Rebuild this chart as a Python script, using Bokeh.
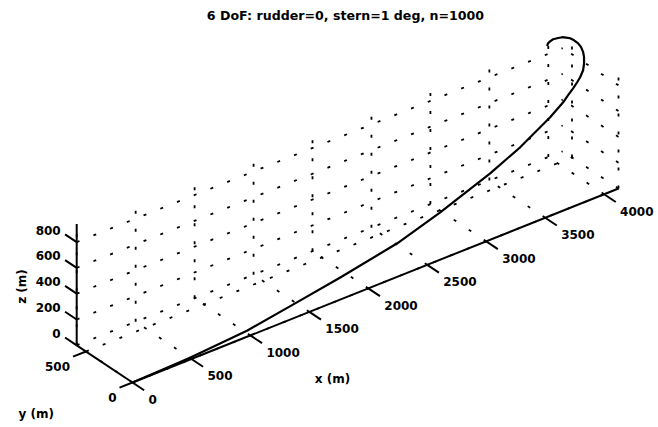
import numpy as np
from bokeh.plotting import figure
from bokeh.models import Range1d
from bokeh.core.properties import value
from bokeh.embed import file_html
from bokeh.resources import INLINE

# ---------------- data ----------------
title = "6 DoF: rudder=0, stern=1 deg, n=1000"

traj_x = [0, 239, 496, 989, 1392, 1802, 2305, 2689, 3144, 3422, 3708, 3842, 3898,
          3958, 4008, 4049, 4094, 4114, 4120, 4122, 4120, 4119, 4108, 4098, 4080,
          4062, 4036, 4013, 3999, 3990, 3990]
traj_y = [0, 2, 5, 18, 35, 50, 75, 100, 140, 170, 210, 240, 258,
          280, 300, 320, 345, 360, 368, 380, 400, 430, 460, 490, 510,
          530, 550, 565, 580, 590, 600]
traj_z = [0, 5, 11, 34, 81, 133, 202, 290, 407, 493, 602, 655, 681,
          702, 721, 735, 761, 801, 842, 874, 904, 920, 933, 938, 940,
          940, 932, 925, 907, 891, 863]

x_lim = [0, 4122]
y_lim = [0, 600]
z_lim = [0, 940]

x_ticks = [0, 500, 1000, 1500, 2000, 2500, 3000, 3500, 4000]
y_ticks = [0, 500]
z_ticks = [0, 200, 400, 600, 800]

x_label = "x (m)"
y_label = "y (m)"
z_label = "z (m)"

# ---------------- view (orthographic projection to page pixels) ----------------
ORIGIN = np.array([132.0, 382.0])
EX = np.array([486.0, -194.0]) / 4122.0
EY = np.array([-0.093, -0.062])
EZ = np.array([0.0, -0.129])


def proj(x, y, z):
    x = np.asarray(x, dtype=float)
    y = np.asarray(y, dtype=float)
    z = np.asarray(z, dtype=float)
    u = ORIGIN[0] + x * EX[0] + y * EY[0] + z * EZ[0]
    v = ORIGIN[1] + x * EX[1] + y * EY[1] + z * EZ[1]
    return u, v


def unit(vec):
    return vec / np.hypot(vec[0], vec[1])


W, H = 658, 427
p = figure(width=W, height=H, x_range=Range1d(0, W), y_range=Range1d(H, 0),
           x_axis_type=None, y_axis_type=None, toolbar_location=None,
           output_backend="svg", min_border=0, outline_line_color=None,
           background_fill_color="white", border_fill_color="white")

FONT = value("DejaVu Sans")
TXT = dict(text_font=FONT, text_font_size=value("12px"), text_font_style="bold",
           text_color="black")

# ---------------- dotted grid on the back planes ----------------
gx, gy = [], []
x0, x1 = x_lim
y0, y1 = y_lim
z0, z1 = z_lim
# back wall y = ymax
for xt in x_ticks:
    u, v = proj([xt, xt], [y1, y1], [z0, z1]); gx.append(list(u)); gy.append(list(v))
for zt in z_ticks:
    u, v = proj([x0, x1], [y1, y1], [zt, zt]); gx.append(list(u)); gy.append(list(v))
# side wall x = xmax
for yt in y_ticks:
    u, v = proj([x1, x1], [yt, yt], [z0, z1]); gx.append(list(u)); gy.append(list(v))
for zt in z_ticks:
    u, v = proj([x1, x1], [y0, y1], [zt, zt]); gx.append(list(u)); gy.append(list(v))
# floor z = zmin
for xt in x_ticks:
    u, v = proj([xt, xt], [y0, y1], [z0, z0]); gx.append(list(u)); gy.append(list(v))
for yt in y_ticks:
    u, v = proj([x0, x1], [yt, yt], [z0, z0]); gx.append(list(u)); gy.append(list(v))

p.multi_line(gx, gy, line_color="black", line_width=1.8, line_dash="3 15")

# ---------------- axis lines ----------------
ax_u, ax_v = [], []
u, v = proj([x0, x1], [y0, y0], [z0, z0]); ax_u.append(list(u)); ax_v.append(list(v))
u, v = proj([x0, x0], [y0, y1], [z0, z0]); ax_u.append(list(u)); ax_v.append(list(v))
u, v = proj([x0, x0], [y1, y1], [z0, z1]); ax_u.append(list(u)); ax_v.append(list(v))
p.multi_line(ax_u, ax_v, line_color="black", line_width=2)

# ---------------- ticks and tick labels ----------------
TL = 14.0
dx_tick = unit(-EY)   # x ticks point towards -y
dy_tick = unit(-EX)   # y ticks point towards -x
dz_tick = unit(EY)    # z ticks point towards +y

tk_u, tk_v = [], []
bu, bv = proj(x_ticks, [y0] * len(x_ticks), [z0] * len(x_ticks))
for a, b in zip(bu, bv):
    tk_u.append([a, a + TL * dx_tick[0]]); tk_v.append([b, b + TL * dx_tick[1]])
p.multi_line(tk_u, tk_v, line_color="black", line_width=2)
p.text(x=list(bu + 16), y=list(bv + 17), text=[str(t) for t in x_ticks],
       text_align="left", text_baseline="middle", **TXT)

tk_u, tk_v = [], []
bu, bv = proj([x0] * len(y_ticks), y_ticks, [z0] * len(y_ticks))
for a, b in zip(bu, bv):
    tk_u.append([a, a + TL * dy_tick[0]]); tk_v.append([b, b + TL * dy_tick[1]])
p.multi_line(tk_u, tk_v, line_color="black", line_width=2)
p.text(x=list(bu - 16), y=list(bv + 15), text=[str(t) for t in y_ticks],
       text_align="right", text_baseline="middle", **TXT)

tk_u, tk_v = [], []
bu, bv = proj([x0] * len(z_ticks), [y1] * len(z_ticks), z_ticks)
for a, b in zip(bu, bv):
    tk_u.append([a, a + TL * dz_tick[0]]); tk_v.append([b, b + TL * dz_tick[1]])
p.multi_line(tk_u, tk_v, line_color="black", line_width=2)
p.text(x=list(bu - 16), y=list(bv - 12), text=[str(t) for t in z_ticks],
       text_align="right", text_baseline="middle", **TXT)

# ---------------- trajectory ----------------
tu, tv = proj(traj_x, traj_y, traj_z)
p.line(list(tu), list(tv), line_color="black", line_width=2.2, line_join="round")

# ---------------- axis labels and title ----------------
p.text(x=[332], y=[378], text=[x_label], text_align="center", text_baseline="middle", **TXT)
p.text(x=[18], y=[413], text=[y_label], text_align="left", text_baseline="middle", **TXT)
p.text(x=[21], y=[286], text=[z_label], text_align="center", text_baseline="middle",
       angle=np.pi / 2, **TXT)
p.text(x=[345], y=[15], text=[title], text_align="center", text_baseline="middle",
       text_font=FONT, text_font_size=value("12.6px"), text_font_style="bold",
       text_color="black")

open("out.html", "w").write(file_html(p, INLINE))
